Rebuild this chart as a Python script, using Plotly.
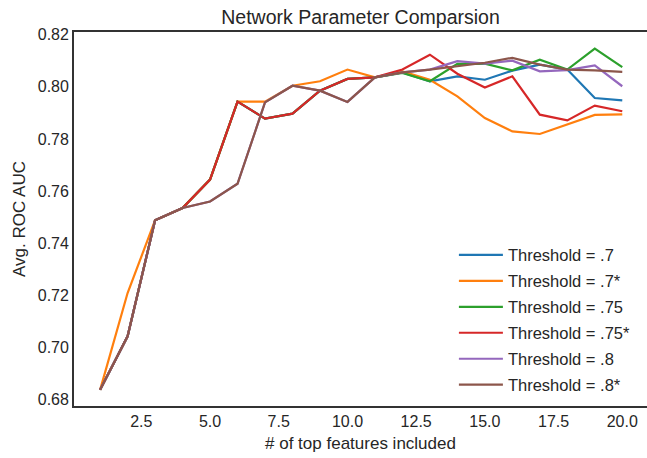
import plotly.graph_objects as go

features = list(range(1, 21))

thr_07 = [0.6838, 0.7043, 0.7488, 0.7535, 0.7644, 0.7943, 0.7878, 0.7897, 0.7985, 0.8030,
          0.8036, 0.8055, 0.8021, 0.8040, 0.8027, 0.8062, 0.8085, 0.8066, 0.7957, 0.7948]
thr_07s = [0.6838, 0.7209, 0.7488, 0.7535, 0.7644, 0.7943, 0.7943, 0.8004, 0.8021, 0.8066,
           0.8036, 0.8059, 0.8027, 0.7963, 0.7880, 0.7829, 0.7819, 0.7855, 0.7892, 0.7894]
thr_075 = [0.6838, 0.7043, 0.7488, 0.7535, 0.7644, 0.7943, 0.7878, 0.7897, 0.7985, 0.8030,
           0.8036, 0.8053, 0.8021, 0.8088, 0.8089, 0.8063, 0.8104, 0.8066, 0.8146, 0.8075]
thr_075s = [0.6838, 0.7043, 0.7488, 0.7535, 0.7644, 0.7943, 0.7878, 0.7897, 0.7985, 0.8030,
            0.8036, 0.8066, 0.8123, 0.8050, 0.7997, 0.8040, 0.7893, 0.7871, 0.7928, 0.7906]
thr_08 = [0.6838, 0.7043, 0.7488, 0.7535, 0.7560, 0.7628, 0.7940, 0.8004, 0.7985, 0.7942,
          0.8036, 0.8055, 0.8066, 0.8098, 0.8089, 0.8100, 0.8059, 0.8064, 0.8082, 0.8002]
thr_08s = [0.6838, 0.7043, 0.7488, 0.7535, 0.7560, 0.7628, 0.7940, 0.8004, 0.7985, 0.7942,
           0.8036, 0.8055, 0.8066, 0.8080, 0.8092, 0.8111, 0.8085, 0.8066, 0.8063, 0.8057]

series_names = ["Threshold = .7", "Threshold = .7*", "Threshold = .75",
                "Threshold = .75*", "Threshold = .8", "Threshold = .8*"]
series_values = [thr_07, thr_07s, thr_075, thr_075s, thr_08, thr_08s]
colors = ["#1f77b4", "#ff7f0e", "#2ca02c", "#d62728", "#9467bd", "#8c564b"]

x_ticks = [2.5, 5.0, 7.5, 10.0, 12.5, 15.0, 17.5, 20.0]
y_ticks = [0.68, 0.70, 0.72, 0.74, 0.76, 0.78, 0.80, 0.82]

FONT = "Liberation Sans, Arial, sans-serif"
TXT = "#262626"

fig = go.Figure()
for i, (name, vals, col) in enumerate(zip(series_names, series_values, colors)):
    fig.add_trace(go.Scatter(
        x=features, y=vals, mode="lines", name=name,
        line=dict(color=col, width=2.2), legendgroup=f"g{i}",
    ))

fig.update_layout(
    width=647, height=458,
    margin=dict(l=74, r=0, t=32, b=52),
    paper_bgcolor="white", plot_bgcolor="white",
    font=dict(family=FONT, color=TXT, size=16),
    title=dict(text="Network Parameter Comparsion", x=0.5, xref="paper",
               y=1 - 17 / 458, yref="container", yanchor="middle", xanchor="center",
               font=dict(size=19.5, color=TXT, family=FONT)),
    showlegend=True,
    legend=dict(x=0.663, y=0.45, xanchor="left", yanchor="top",
                bgcolor="rgba(0,0,0,0)", font=dict(size=16.5, color=TXT),
                tracegroupgap=1.5, itemwidth=44),
    xaxis=dict(range=[0.05, 20.9], tickvals=x_ticks, tickformat=".1f",
               showgrid=False, zeroline=False, showline=True, linecolor="#333333",
               linewidth=1.8, mirror=True, ticks="", tickfont=dict(size=16),
               title=dict(text="# of top features included", font=dict(size=17), standoff=8)),
    yaxis=dict(range=[0.6776, 0.821], tickvals=y_ticks, tickformat=".2f",
               showgrid=False, zeroline=False, showline=True, linecolor="#333333",
               linewidth=1.8, mirror=False, ticks="", tickfont=dict(size=16),
               title=dict(text="Avg. ROC AUC", font=dict(size=17), standoff=8)),
)

fig.write_html("out.html")
